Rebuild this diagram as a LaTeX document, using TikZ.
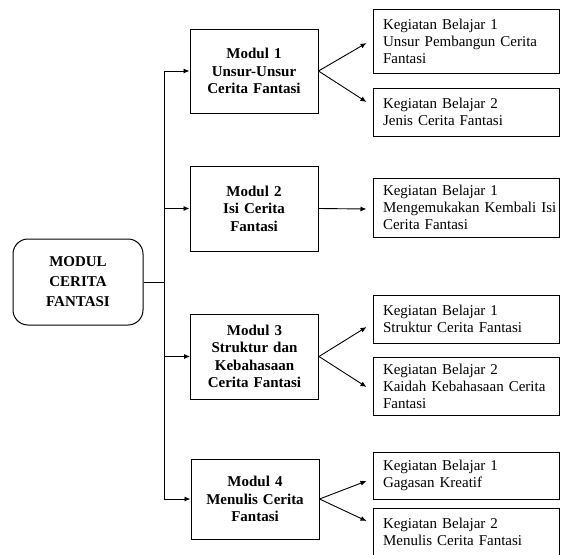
\documentclass[tikz,border=0pt]{standalone}
\usepackage{fontspec}
\setmainfont{Liberation Serif}
\usetikzlibrary{calc,arrows.meta}
\tikzset{
  modul/.style={draw, line width=1pt, text width=120pt, inner xsep=4pt, inner ysep=0pt, align=center, font=\bfseries\fontsize{15}{17.5}\selectfont},
  kegiatan/.style={draw, line width=1pt, text width=166pt, inner xsep=10pt, inner ysep=0pt, align=left, font=\fontsize{15}{17}\selectfont},
  induk/.style={draw, line width=1pt, rounded corners=15pt, minimum width=130pt, minimum height=86pt, align=center, font=\bfseries\fontsize{15}{20}\selectfont},
  panah/.style={-{Latex[length=6pt,width=5pt]}, line width=0.9pt},
}

\begin{document}
\begin{tikzpicture}[x=1pt, y=-1pt]
	%%%%% START %%%%%
	\useasboundingbox (0,0) rectangle (562,554);
	\clip (0,0) rectangle (562,554);
	
	\node[induk] (main) at (78,282) {MODUL\\CERITA\\FANTASI};
	
	\node[modul, minimum height=84pt] (m1) at (254,71) {Modul 1\\Unsur-Unsur\\Cerita Fantasi};
	\node[modul, minimum height=85pt] (m2) at (254,208.5) {Modul 2\\Isi Cerita\\Fantasi};
	\node[modul, minimum height=85pt] (m3) at (254.5,356.5) {Modul 3\\Struktur dan\\Kebahasaan\\Cerita Fantasi};
	\node[modul, minimum height=80pt] (m4) at (255,499) {Modul 4\\Menulis Cerita\\Fantasi};
	
	\node[kegiatan, minimum height=64pt] (k11) at (466,41) {Kegiatan Belajar 1\\Unsur Pembangun Cerita\\Fantasi};
	\node[kegiatan, minimum height=48pt] (k12) at (466,112) {Kegiatan Belajar 2\\Jenis Cerita Fantasi};
	\node[kegiatan, minimum height=59pt] (k21) at (466,207.5) {Kegiatan Belajar 1\\\mbox{Mengemukakan Kembali Isi}\\Cerita Fantasi};
	\node[kegiatan, minimum height=48pt] (k31) at (466,319) {Kegiatan Belajar 1\\Struktur Cerita Fantasi};
	\node[kegiatan, minimum height=58pt] (k32) at (466,386) {Kegiatan Belajar 2\\\mbox{Kaidah Kebahasaan Cerita}\\Fantasi};
	\node[kegiatan, minimum height=47pt] (k41) at (466,475.5) {Kegiatan Belajar 1\\Gagasan Kreatif};
	\node[kegiatan, minimum height=48pt] (k42) at (466,532) {Kegiatan Belajar 2\\Menulis Cerita Fantasi};
	
	% batang
	\coordinate (t1) at (164,71);
	\coordinate (t4) at (164,499);
	\draw[line width=0.9pt] (t1) -- (t4);
	\draw[line width=0.9pt] (main.east) -- (main.east -| t1);
	\foreach \m in {m1,m2,m3,m4}
		\draw[panah] (\m.west -| t1) -- (\m.west);
	
	\draw[panah] (m1.east) -- ($(k11.west)+(-6,2)$);
	\draw[panah] (m1.east) -- ($(k12.west)+(-6,-10)$);
	\draw[panah] (m2.east) -- ($(k21.west)+(-6,1.5)$);
	\draw[panah] (m3.east) -- ($(k31.west)+(-6,8)$);
	\draw[panah] (m3.east) -- ($(k32.west)+(-6,1)$);
	\draw[panah] (m4.east) -- ($(k41.west)+(-6,5.5)$);
	\draw[panah] (m4.east) -- ($(k42.west)+(-6,-11)$);
	
	%%%%% END %%%%%
\end{tikzpicture}
\end{document}
